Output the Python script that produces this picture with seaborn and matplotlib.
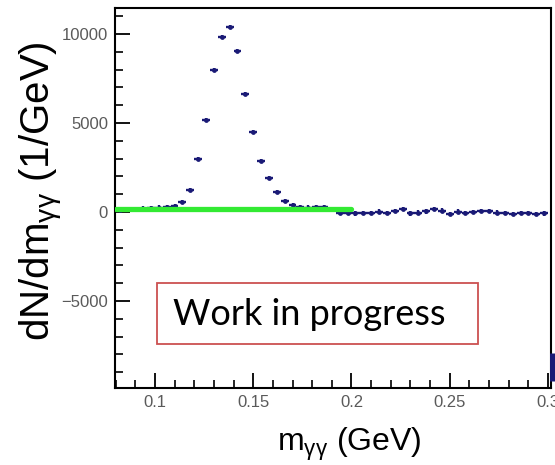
import matplotlib
matplotlib.use("Agg")
import matplotlib.pyplot as plt
import seaborn as sns
import pandas as pd
from matplotlib.patches import Rectangle
from matplotlib.ticker import MultipleLocator

# ------------------------------------------------------------
# Données (bins de 0.004 GeV)
# ------------------------------------------------------------
mass_centres = [
    0.082, 0.086, 0.090, 0.094, 0.098, 0.102, 0.106, 0.110, 0.114, 0.118,
    0.122, 0.126, 0.130, 0.134, 0.138, 0.142, 0.146, 0.150, 0.154, 0.158,
    0.162, 0.166, 0.170, 0.174, 0.178, 0.182, 0.186, 0.190, 0.194, 0.198,
    0.202, 0.206, 0.210, 0.214, 0.218, 0.222, 0.226, 0.230, 0.234, 0.238,
    0.242, 0.246, 0.250, 0.254, 0.258, 0.262, 0.266, 0.270, 0.274, 0.278,
    0.282, 0.286, 0.290, 0.294, 0.298,
]
counts = [
    130, 150, 170, 190, 220, 250, 290, 330, 560, 1240,
    2980, 5170, 7980, 9830, 10390, 9040, 6630, 4490, 2870, 1910,
    1120, 620, 390, 280, 250, 280, 260, 150, -60, -60,
    -80, -60, -50, 20, -70, 60, 150, -80, -30, 30,
    150, 80, -120, 20, -50, -20, 40, 70, -30, -40,
    -130, -60, -40, -120, -80,
]
half_bin = 0.002
count_err = 120

# fond ajusté (ligne verte)
fit_x = [0.08, 0.2]
fit_y = [160, 160]

# morceau de marqueur coupé au bord droit
edge_x = [0.3025]
edge_y = [-8700]

x_ticks = [0.1, 0.15, 0.2, 0.25, 0.3]
x_tick_labels = ["0.1", "0.15", "0.2", "0.25", "0.3"]
y_ticks = [-5000, 0, 5000, 10000]
y_tick_labels = ["\u22125000", "0", "5000", "10000"]

df = pd.DataFrame({"m": mass_centres, "n": counts})

sns.set_style("white")
plt.rcParams["font.family"] = ["Liberation Sans", "DejaVu Sans"]
plt.rcParams["mathtext.default"] = "regular"

W, H = 555, 465
fig = plt.figure(figsize=(W / 100, H / 100), dpi=100)
ax = fig.add_axes([115 / W, 1 - 388 / H, 436 / W, 380 / H])

navy = "#1a1a76"
ax.errorbar(df["m"], df["n"], xerr=half_bin, yerr=count_err, fmt="none",
            ecolor=navy, elinewidth=1.7, capsize=0, zorder=2)
sns.scatterplot(data=df, x="m", y="n", ax=ax, color=navy, s=12,
                edgecolor=navy, linewidth=0, zorder=3, legend=False)
sns.lineplot(x=fit_x, y=fit_y, ax=ax, color="#33ea33", linewidth=3.8,
             zorder=4, legend=False)
ax.scatter(edge_x, edge_y, marker="|", s=400, linewidths=5, color=navy,
           clip_on=False, zorder=5)

ax.set_xlim(0.0797, 0.3015)
ax.set_ylim(-9890, 11460)

ax.set_xticks(x_ticks)
ax.set_xticklabels(x_tick_labels)
ax.set_yticks(y_ticks)
ax.set_yticklabels(y_tick_labels)
ax.xaxis.set_minor_locator(MultipleLocator(0.01))
ax.yaxis.set_minor_locator(MultipleLocator(1000))

ax.tick_params(which="both", bottom=True, left=True, top=False, right=False)
ax.tick_params(which="major", direction="in", length=11, width=1.3,
               color="black", labelsize=12, labelcolor="#5a5a5a", pad=5)
ax.tick_params(which="minor", direction="in", length=6, width=1.2,
               color="black")

for side in ["left", "bottom", "top", "right"]:
    ax.spines[side].set_visible(True)
    ax.spines[side].set_color("black")
    ax.spines[side].set_linewidth(1.5)

ax.set_xlabel("m$_{γγ}$ (GeV)", fontsize=23, color="black")
ax.set_ylabel("dN/dm$_{γγ}$ (1/GeV)", fontsize=29, color="black")
ax.xaxis.set_label_coords(0.537, -0.1)
ax.yaxis.set_label_coords(-0.115, 0.518)

# encadré "Work in progress"
fig.patches.append(Rectangle((157 / W, 1 - 344 / H), 321 / W, 61 / H,
                             transform=fig.transFigure, fill=False,
                             edgecolor="#cc5050", linewidth=1.3))
fig.text(173 / W, 1 - 314 / H, "Work in progress", fontsize=26,
         family=["Lato", "DejaVu Sans"], color="black", va="center",
         ha="left")

fig.savefig("out.png", dpi=100)
